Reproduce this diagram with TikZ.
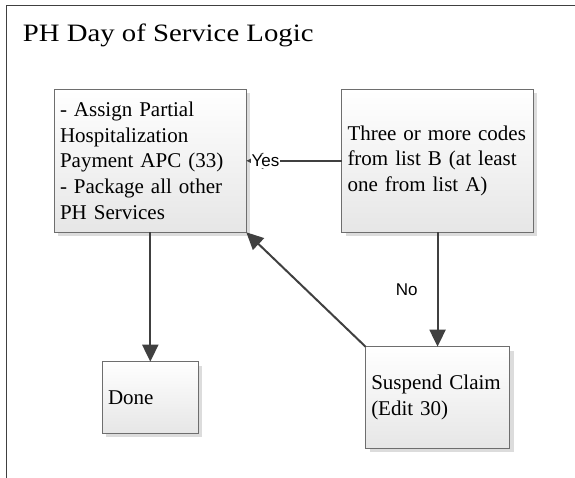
\documentclass[tikz,border=0pt]{standalone}
\usepackage{fontspec}
\setmainfont{Liberation Serif}
\setsansfont{Liberation Sans}
\newfontfamily\titlefont[FakeStretch=1.15]{Liberation Serif}
\usepackage{tikz}
\usetikzlibrary{positioning}
\usetikzlibrary{shadows}
\usetikzlibrary{arrows.meta}
\definecolor{linegray}{HTML}{404040}
\definecolor{edgegray}{HTML}{6E6E6E}
\definecolor{fillgray}{HTML}{E6E6E6}
\definecolor{shadegray}{HTML}{DCDCDC}

\begin{document}
\begin{tikzpicture}[x=1pt,y=1pt,
		phbox/.style={draw=edgegray, line width=0.8pt, top color=white, bottom color=fillgray,
			align=left, inner xsep=5.7pt, inner ysep=0pt, outer sep=0pt,
			font=\fontsize{21}{25.8}\selectfont,
			drop shadow={shadow xshift=4pt, shadow yshift=-4pt, fill=shadegray, opacity=1}},
		flow/.style={draw=linegray, line width=2pt, -{Triangle[length=17pt,width=16pt]}},
		lbl/.style={font=\sffamily\fontsize{17}{20}\selectfont, inner sep=1pt}]
		\useasboundingbox (0,0) rectangle (575,-478);
		\draw[linegray, line width=1pt] (6.3,-478) -- (6.3,-5.3) -- (575,-5.3);
		\node[anchor=base west, inner sep=0pt, font=\titlefont\fontsize{25}{30}\selectfont] (title) at (22.7,-41.7) {PH Day of Service Logic};
		\node[phbox, anchor=north west, text width=180.6pt, minimum height=143pt] (assign) at (54.3,-89.3) {- Assign Partial\\
			Hospitalization\\
			Payment APC (33)\\
			- Package all other\\
			PH Services};
		\node[phbox, right=95.5pt of assign, text width=180.1pt, minimum height=143pt] (codes) {Three or more codes\\
			from list B (at least\\
			one from list A)};
		\node[phbox, below=129.4pt of assign, text width=84.6pt, minimum height=71.6pt] (done) {Done};
		\node[phbox, below=114.4pt of codes, text width=132.6pt, minimum height=101.6pt] (suspend) {Suspend Claim\\
			(Edit 30)};
		\draw[flow] (codes) -- node[lbl, fill=white, pos=0.8] {Yes} (assign);
		\draw[flow] (codes) -- node[lbl, left=18pt] {No} (suspend);
		\draw[flow] (assign) -- (done);
		\draw[flow] (suspend.north west) -- (assign.south east);
	\end{tikzpicture}
\end{document}
